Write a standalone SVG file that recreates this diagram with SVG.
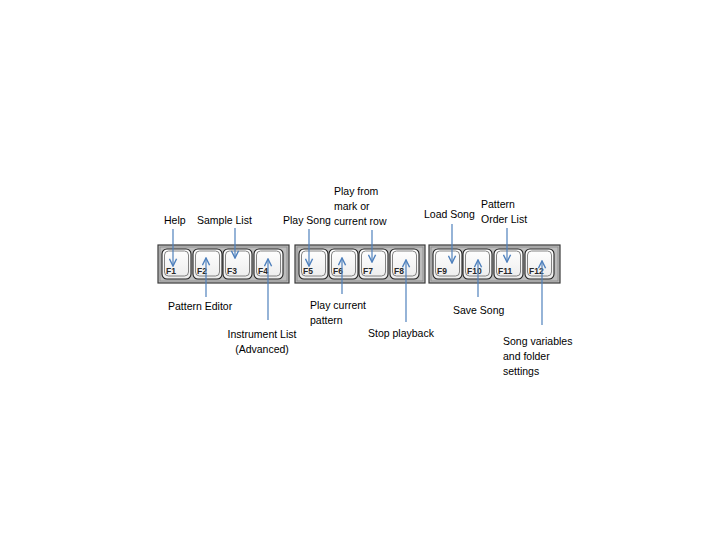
<svg xmlns="http://www.w3.org/2000/svg" width="720" height="540" viewBox="0 0 720 540">
<defs>
<linearGradient id="kg" x1="0" y1="0" x2="0" y2="1">
<stop offset="0" stop-color="#ffffff"/>
<stop offset="1" stop-color="#ececec"/>
</linearGradient>
<marker id="ah" viewBox="0 0 10 10" refX="9" refY="5" markerWidth="9" markerHeight="9" markerUnits="userSpaceOnUse" orient="auto">
<path d="M1,1 L9,5 L1,9" fill="none" stroke="#4f81bd" stroke-width="1.6"/>
</marker>
<g id="key">
<rect x="0" y="0" width="29" height="30" rx="5" fill="url(#kg)" stroke="#222" stroke-width="1.1"/>
<rect x="2.5" y="2" width="24" height="25" rx="4" fill="none" stroke="#666" stroke-width="0.8"/>
</g>
</defs>
<style>
.lbl{font-family:"Liberation Sans",Arial,sans-serif;font-size:10.5px;fill:#000}
.fk{font-family:"Liberation Sans",Arial,sans-serif;font-size:8.5px;font-weight:bold;fill:#2a2a2a}
.grp{fill:#bdbdbd;stroke:#3a3a3a;stroke-width:1.2}
.grpi{fill:none;stroke:#8a8a8a;stroke-width:0.8}
.conn{fill:none;stroke:#4f81bd;stroke-width:1.2}
.arr{marker-end:url(#ah)}
</style>
<rect width="720" height="540" fill="#fff"/>

<g id="group1">
<rect class="grp" x="158" y="245" width="131" height="38"/>
<rect class="grpi" x="160" y="247" width="127" height="34"/>
</g>
<g id="group2">
<rect class="grp" x="295" y="245" width="130" height="38"/>
<rect class="grpi" x="297" y="247" width="126" height="34"/>
</g>
<g id="group3">
<rect class="grp" x="429" y="245" width="131" height="38"/>
<rect class="grpi" x="431" y="247" width="127" height="34"/>
</g>

<g id="F1"><use href="#key" x="162" y="249"/><text class="fk" x="166" y="274">F1</text></g>
<g id="F2"><use href="#key" x="193" y="249"/><text class="fk" x="197" y="274">F2</text></g>
<g id="F3"><use href="#key" x="223" y="249"/><text class="fk" x="227" y="274">F3</text></g>
<g id="F4"><use href="#key" x="254" y="249"/><text class="fk" x="258" y="274">F4</text></g>

<g id="F5"><use href="#key" x="299" y="249"/><text class="fk" x="303" y="274">F5</text></g>
<g id="F6"><use href="#key" x="329" y="249"/><text class="fk" x="333" y="274">F6</text></g>
<g id="F7"><use href="#key" x="359" y="249"/><text class="fk" x="363" y="274">F7</text></g>
<g id="F8"><use href="#key" x="390" y="249"/><text class="fk" x="394" y="274">F8</text></g>

<g id="F9"><use href="#key" x="433" y="249"/><text class="fk" x="437" y="274">F9</text></g>
<g id="F10"><use href="#key" x="463" y="249"/><text class="fk" x="467" y="274">F10</text></g>
<g id="F11"><use href="#key" x="494" y="249"/><text class="fk" x="498" y="274">F11</text></g>
<g id="F12"><use href="#key" x="525" y="249"/><text class="fk" x="529" y="274">F12</text></g>

<g id="labels">
<text class="lbl" x="164" y="224">Help</text>
<text class="lbl" x="197" y="224">Sample List</text>
<text class="lbl" x="168" y="310">Pattern Editor</text>
<text class="lbl" x="262" y="338" text-anchor="middle">Instrument List</text>
<text class="lbl" x="262" y="353" text-anchor="middle">(Advanced)</text>
<text class="lbl" x="283" y="224">Play Song</text>
<text class="lbl" x="334" y="195">Play from</text>
<text class="lbl" x="334" y="210">mark or</text>
<text class="lbl" x="334" y="225">current row</text>
<text class="lbl" x="310" y="309">Play current</text>
<text class="lbl" x="310" y="324">pattern</text>
<text class="lbl" x="368" y="337">Stop playback</text>
<text class="lbl" x="424" y="218">Load Song</text>
<text class="lbl" x="481" y="208">Pattern</text>
<text class="lbl" x="481" y="223">Order List</text>
<text class="lbl" x="453" y="314">Save Song</text>
<text class="lbl" x="503" y="345">Song variables</text>
<text class="lbl" x="503" y="360">and folder</text>
<text class="lbl" x="503" y="375">settings</text>
</g>

<g id="connectors">
<line class="conn arr" x1="173" y1="229" x2="173" y2="266"/>
<line class="conn arr" x1="235" y1="228" x2="235" y2="258"/>
<line class="conn arr" x1="206" y1="297" x2="206" y2="258"/>
<line class="conn arr" x1="268" y1="320" x2="268" y2="259"/>
<line class="conn arr" x1="309" y1="229" x2="309" y2="266"/>
<line class="conn arr" x1="372" y1="230" x2="372" y2="262"/>
<line class="conn arr" x1="342" y1="294" x2="342" y2="258"/>
<line class="conn arr" x1="406" y1="322" x2="406" y2="260"/>
<line class="conn arr" x1="452" y1="224" x2="452" y2="263"/>
<line class="conn arr" x1="507" y1="228" x2="507" y2="262"/>
<line class="conn arr" x1="478" y1="297" x2="478" y2="260"/>
<line class="conn arr" x1="542" y1="325" x2="542" y2="261"/>
</g>
</svg>
